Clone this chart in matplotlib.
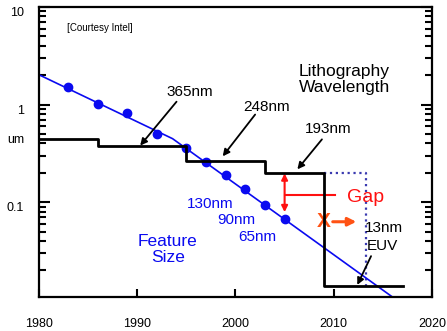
# Lithography wavelength vs. feature size (log scale)
import matplotlib
matplotlib.use('Agg')
import matplotlib.pyplot as plt
import matplotlib.transforms as mtransforms

plt.rcParams['font.family'] = ['Liberation Sans', 'DejaVu Sans']

# --- data ---
feature_years = [1983, 1986, 1989, 1992, 1995, 1997, 1999, 2001, 2003, 2005]
feature_um = [1.53, 1.02, 0.81, 0.50, 0.36, 0.26, 0.19, 0.135, 0.093, 0.067]

trend_years = [1980, 1993.6, 2017]
trend_um = [2.02, 0.447, 0.009]

wave_years = [1980, 1986, 1995, 2003, 2009, 2017]
wave_um = [0.44, 0.38, 0.262, 0.197, 0.0139, 0.0139]

euv_years = [2009, 2013.3, 2013.3]
euv_um = [0.197, 0.197, 0.0139]

x_ticks = [1980, 1990, 2000, 2010, 2020]
y_ticks = [0.1, 1, 10]
y_tick_labels = ['0.1', '1', '10']

# arrow labels for the wavelength steps: (text, text pos, arrow tail, arrow head)
wave_labels = [
    ('365nm', (1995.3, 1.33), (1994.0, 1.07), (1990.3, 0.38)),
    ('248nm', (2003.2, 0.955), (2002.0, 0.79), (1998.7, 0.295)),
    ('193nm', (2009.4, 0.556), (2008.8, 0.44), (2006.3, 0.217)),
]

# feature size node labels
node_labels = ['130nm', '90nm', '65nm']
node_pos = [(1997.4, 0.095), (2000.05, 0.0656), (2002.2, 0.0438)]

# --- figure ---
fig = plt.figure(figsize=(4.47, 3.31), dpi=100)
ax = fig.add_axes([0.0872, 0.103, 0.8792, 0.876])

blue = '#0a0af0'
ax.plot(trend_years, trend_um, color=blue, lw=1.2, zorder=2)
ax.plot(feature_years, feature_um, 'o', color=blue, ms=6, zorder=3)
ax.plot(wave_years, wave_um, color='black', lw=2.0, drawstyle='steps-post', zorder=4)
ax.plot(euv_years, euv_um, color='#3a3ab0', lw=1.6, ls=':', zorder=1)

ax.set_yscale('log')
ax.set_xlim(1980, 2020)
ax.set_ylim(0.0107, 10)

ax.set_xticks(x_ticks)
ax.set_yticks(y_ticks)
ax.set_yticklabels(y_tick_labels)
for lbl in ax.get_yticklabels():
    lbl.set_va('top')

ax.tick_params(axis='both', which='both', direction='in', labelsize=9)
ax.tick_params(axis='y', which='both', left=True, right=True)
ax.tick_params(axis='y', which='major', length=8, width=1.5, pad=11)
ax.tick_params(axis='y', which='minor', length=5, width=1.5)
ax.tick_params(axis='x', which='major', length=6, width=1.5, pad=15, top=False)
ax.tick_params(axis='x', which='minor', bottom=False, top=False)
for s in ax.spines.values():
    s.set_linewidth(1.6)

# "um" unit on the y axis
trans = mtransforms.blended_transform_factory(ax.transAxes, ax.transData)
ax.text(-0.038, 0.43, 'um', transform=trans, ha='right', va='center', fontsize=9)

# texts
ax.text(1986.2, 6.1, '[Courtesy Intel]', fontsize=7, ha='center', va='center')
ax.text(2011.1, 1.8, 'Lithography\nWavelength', fontsize=12.5, ha='center',
        va='center', linespacing=1.1)

for txt, tpos, tail, head in wave_labels:
    ax.text(tpos[0], tpos[1], txt, fontsize=11, ha='center', va='center')
    ax.annotate('', xy=head, xytext=tail,
                arrowprops=dict(arrowstyle='-|>', color='black', lw=1.3,
                                mutation_scale=10, shrinkA=0, shrinkB=0))

for txt, pos in zip(node_labels, node_pos):
    ax.text(pos[0], pos[1], txt, fontsize=11, color=blue, ha='center', va='center')

ax.text(1993.1, 0.033, 'Feature\nSize', fontsize=12.5, color=blue, ha='center',
        va='center', linespacing=1.1)

# the gap between wavelength and feature size
red = '#ff1010'
ax.annotate('', xy=(2005, 0.197), xytext=(2005, 0.079),
            arrowprops=dict(arrowstyle='<|-|>', color=red, lw=1.5,
                            mutation_scale=9, shrinkA=0, shrinkB=0))
ax.plot([2005, 2010.1], [0.118, 0.118], color=red, lw=1.5)
ax.text(2011.3, 0.112, 'Gap', fontsize=14, color=red, ha='left', va='center')

orange = '#ff5214'
ax.text(2009.0, 0.064, 'X', fontsize=15, fontweight='bold', color=orange,
        ha='center', va='center')
ax.annotate('', xy=(2012.3, 0.063), xytext=(2009.9, 0.063),
            arrowprops=dict(arrowstyle='-|>', color=orange, lw=2.2,
                            mutation_scale=12, shrinkA=0, shrinkB=0))

# EUV label
ax.text(2013.2, 0.055, '13nm', fontsize=11, ha='left', va='center')
ax.text(2013.4, 0.0355, 'EUV', fontsize=11, ha='left', va='center')
ax.annotate('', xy=(2012.4, 0.0142), xytext=(2013.8, 0.028),
            arrowprops=dict(arrowstyle='-|>', color='black', lw=1.3,
                            mutation_scale=10, shrinkA=0, shrinkB=0))

plt.savefig('out.png', dpi=100)
